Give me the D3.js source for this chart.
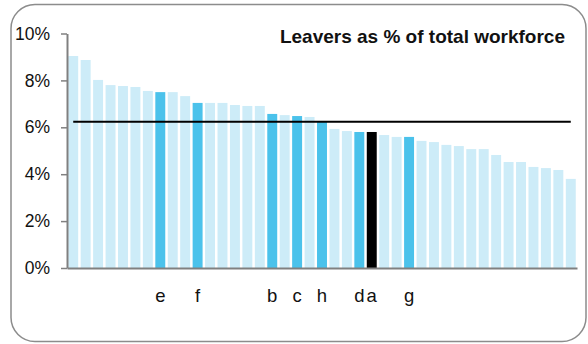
<!DOCTYPE html>
<html><head><meta charset="utf-8">
<script src="https://cdn.jsdelivr.net/npm/d3@7"></script>
<style>body{margin:0;background:#fff}svg{display:block}</style>
</head><body>
<svg id="c" width="588" height="344"></svg>
<script>
const values = [9.04,8.87,8.02,7.80,7.76,7.72,7.55,7.50,7.50,7.33,7.04,7.04,7.04,6.95,6.91,6.91,6.57,6.52,6.48,6.44,6.25,5.93,5.84,5.80,5.80,5.67,5.59,5.59,5.42,5.37,5.25,5.20,5.07,5.07,4.82,4.52,4.52,4.31,4.26,4.18,3.80];
const labels = ["","","","","","","","e","","","f","","","","","","b","","c","","h","","","d","a","","","g","","","","","","","","","","","","",""];
const kinds = ["o","o","o","o","o","o","o","h","o","o","h","o","o","o","o","o","h","o","h","o","h","o","o","h","k","o","o","h","o","o","o","o","o","o","o","o","o","o","o","o","o"];
const average = 6.24;
const yTicks = [0,2,4,6,8,10];
const title = "Leavers as % of total workforce";

const svg = d3.select("#c");
const colors = {o:"#cdecf8", h:"#4bc2eb", k:"#000000"};
const x = d3.scaleBand().domain(d3.range(values.length)).range([67,577]).paddingInner(0.2).paddingOuter(0.1);
const y = d3.scaleLinear().domain([0,10]).range([268,33.5]);

svg.append("rect").attr("x",11).attr("y",4.5).attr("width",575).attr("height",337)
  .attr("rx",24).attr("ry",24).attr("fill","none").attr("stroke","#8c8c8c").attr("stroke-width",1.5);

svg.append("g").selectAll("rect").data(values).join("rect")
  .attr("x",(d,i)=>x(i)).attr("width",x.bandwidth())
  .attr("y",d=>y(d)).attr("height",d=>y(0)-y(d))
  .attr("fill",(d,i)=>colors[kinds[i]]);

// average line
svg.append("line").attr("x1",x(0)+x.bandwidth()/2).attr("x2",x(values.length-1)+x.bandwidth()/2)
  .attr("y1",y(average)).attr("y2",y(average)).attr("stroke","#000").attr("stroke-width",2);

// y axis
const ya = svg.append("g").attr("transform","translate(67,0)")
  .call(d3.axisLeft(y).tickValues(yTicks).tickFormat(d=>d+"%").tickSize(6).tickSizeOuter(0).tickPadding(11));
ya.select(".domain").attr("stroke","#808080").attr("stroke-width",2);
ya.selectAll(".tick line").attr("stroke","#808080").attr("stroke-width",1.5);
ya.selectAll(".tick text").attr("font-family","Liberation Sans, Arial, sans-serif").attr("font-size",17.5).attr("fill","#111");

// x axis
const xa = svg.append("g").attr("transform","translate(0,268)")
  .call(d3.axisBottom(x).tickFormat(i=>labels[i]).tickSize(0).tickPadding(21));
xa.select(".domain").attr("stroke","#808080").attr("stroke-width",2);
xa.selectAll(".tick text").attr("font-family","Liberation Sans, Arial, sans-serif").attr("font-size",18.5).attr("fill","#111");

svg.append("text").attr("x",565).attr("y",42.5).attr("text-anchor","end")
  .attr("font-family","Liberation Sans, Arial, sans-serif").attr("font-weight","bold").attr("font-size",19)
  .attr("fill","#111").text(title);
</script>
</body></html>
